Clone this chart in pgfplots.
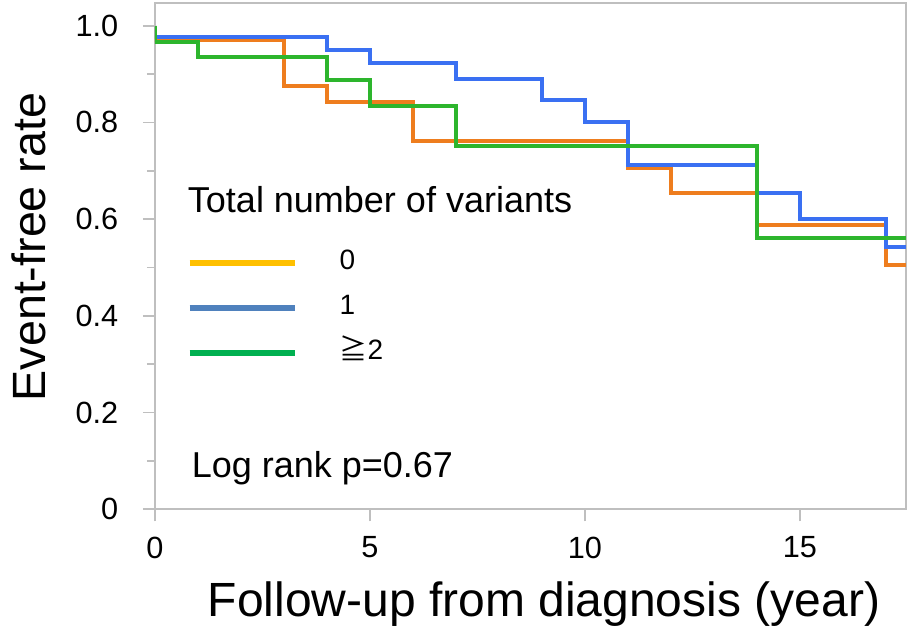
\documentclass[border=0pt]{standalone}
\usepackage{pgfplots}
\pgfplotsset{compat=1.18}
\usepackage{fontspec}
\setmainfont{Liberation Sans}
\newfontfamily\cjk{Noto Sans CJK JP}
\definecolor{axgray}{HTML}{BFBFBF}
\definecolor{orline}{HTML}{EE7D1E}
\definecolor{blline}{HTML}{3A70F2}
\definecolor{grline}{HTML}{2DB52D}
\definecolor{orleg}{HTML}{FFC000}
\definecolor{blleg}{HTML}{4F81BD}
\definecolor{grleg}{HTML}{00B050}
\begin{document}
\begin{tikzpicture}
\begin{axis}[
  scale only axis, width=563.25pt, height=379.7pt,
  xmin=0, xmax=17.47, ymin=0, ymax=1.047,
  axis line style={axgray, line width=1.2pt},
  tick style={axgray, line width=1.2pt},
  tick align=outside, tick pos=left,
  xtick={0,5,10,15},
  ytick={0,0.2,0.4,0.6,0.8,1.0},
  yticklabels={0,0.2,0.4,0.6,0.8,1.0},
  minor ytick={0.1,0.3,0.5,0.7,0.9},
  major tick length=9pt, minor tick length=6pt,
  ticklabel style={font=\fontsize{23}{26}\selectfont},
  yticklabel style={xshift=-15pt},
  xticklabel style={yshift=-8pt},
  /pgf/number format/assume math mode=true,
  xlabel={Follow-up from diagnosis (year)},
  ylabel={Event-free rate},
  xlabel style={font=\fontsize{36}{40}\selectfont, at={(axis description cs:0.518,-0.211)}, anchor=base, inner sep=0pt},
  ylabel style={font=\fontsize{35}{40}\selectfont, at={(axis description cs:-0.1685,0.518)}, anchor=center, inner sep=0pt},
  legend style={at={(axis cs:0.73,0.537)}, anchor=north west, draw=none, fill=none,
    inner sep=0pt, font=\fontsize{21}{24}\selectfont, row sep=18.75pt,
    nodes={inner sep=0pt, text height=15pt, text depth=0pt}},
  legend cell align=left,
  legend image code/.code={\draw[line width=4.5pt,#1] (0pt,-2.5pt) -- (79.3pt,-2.5pt);},
]
\addplot[const plot, orline, line width=3pt, forget plot] coordinates {
(0,1) (0,0.970) (3,0.876) (4,0.843) (6,0.762) (11,0.706) (12,0.654) (14,0.588) (17,0.505) (17.47,0.505)};
\addplot[const plot, blline, line width=3pt, forget plot] coordinates {
(0,1) (0,0.976) (4,0.949) (5,0.923) (7,0.889) (9,0.847) (10,0.801) (11,0.712) (14,0.655) (15,0.600) (17,0.542) (17.47,0.542)};
\addplot[const plot, grline, line width=3pt, forget plot] coordinates {
(0,1) (0,0.967) (1,0.936) (4,0.888) (5,0.834) (7,0.752) (14,0.562) (17.47,0.562)};
\addlegendimage{orleg}
\addlegendentry{\hspace*{31pt}0}
\addlegendimage{blleg}
\addlegendentry{\hspace*{31pt}1}
\addlegendimage{grleg}
\addlegendentry{\hspace*{31pt}{\cjk ≧}2}
\node[anchor=base west, inner sep=0pt, font=\fontsize{27}{30}\selectfont] at (axis cs:0.76,0.613) {Total number of variants};
\node[anchor=base west, inner sep=0pt, font=\fontsize{27}{30}\selectfont] at (axis cs:0.85,0.0653) {Log rank p=0.67};
\coordinate (bl) at (rel axis cs:0,0);
\coordinate (tr) at (rel axis cs:1,1);
\end{axis}
\pgfresetboundingbox
\path[use as bounding box] ([shift={(-116.25pt,-88.3pt)}]bl) rectangle ([shift={(6pt,2.25pt)}]tr);
\end{tikzpicture}
\end{document}
